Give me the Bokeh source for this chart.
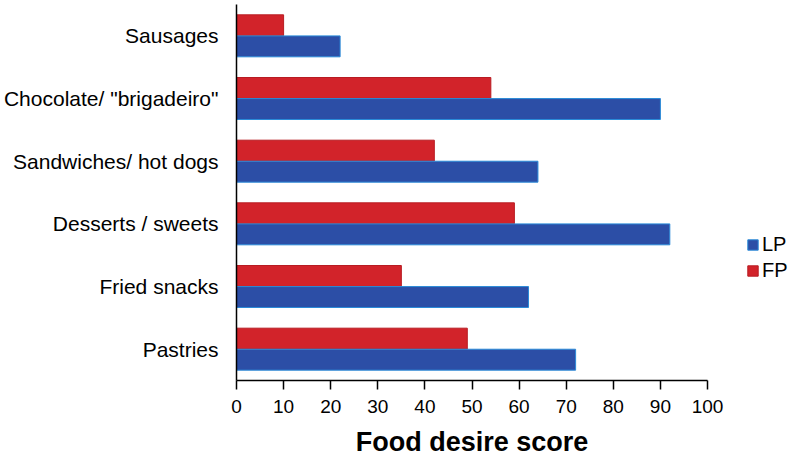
from bokeh.plotting import figure
from bokeh.models import FactorRange, Legend, LegendItem, FixedTicker
from bokeh.transform import dodge
from bokeh.embed import file_html
from bokeh.resources import INLINE
from bokeh.models import ColumnDataSource

categories = ["Sausages", "Chocolate/ \"brigadeiro\"", "Sandwiches/ hot dogs",
              "Desserts / sweets", "Fried snacks", "Pastries"]
lp_values = [22, 90, 64, 92, 62, 72]
fp_values = [10, 54, 42, 59, 35, 49]
x_ticks = [0, 10, 20, 30, 40, 50, 60, 70, 80, 90, 100]

LP_COLOR = "#2c4ea6"
FP_COLOR = "#d2232a"
FONT = "Liberation Sans"

src = ColumnDataSource(dict(cat=categories, lp=lp_values, fp=fp_values))

y_range = FactorRange(factors=list(reversed(categories)), range_padding=0)
p = figure(frame_width=471, frame_height=376, y_range=y_range, x_range=(0, 100),
           output_backend="svg", toolbar_location=None,
           min_border_left=230, min_border_right=0, min_border_top=4,
           min_border_bottom=20)

r_fp = p.hbar(y=dodge("cat", 0.168, range=p.y_range), right="fp", left=0,
              height=0.334, source=src, fill_color=FP_COLOR,
              line_color="#b81c22", line_width=1)
r_lp = p.hbar(y=dodge("cat", -0.168, range=p.y_range), right="lp", left=0,
              height=0.334, source=src, fill_color=LP_COLOR,
              line_color="#2a8ad8", line_width=1)

p.xgrid.visible = False
p.ygrid.visible = False
p.outline_line_color = None
p.background_fill_color = "white"
p.border_fill_color = "white"

xa = p.xaxis[0]
xa.ticker = FixedTicker(ticks=x_ticks)
xa.minor_tick_line_color = None
xa.major_tick_in = 0
xa.major_tick_out = 9
xa.axis_line_color = "black"
xa.axis_line_width = 1.5
xa.major_tick_line_color = "black"
xa.major_tick_line_width = 1.5
xa.major_label_text_font = FONT
xa.major_label_text_font_size = "19px"
xa.major_label_text_color = "black"
xa.major_label_standoff = 10
xa.axis_label = "Food desire score"
xa.axis_label_text_font = FONT
xa.axis_label_text_font_style = "bold"
xa.axis_label_text_font_size = "27px"
xa.axis_label_text_color = "black"
xa.axis_label_standoff = 11

ya = p.yaxis[0]
ya.major_tick_line_color = None
ya.minor_tick_line_color = None
ya.axis_line_color = "black"
ya.axis_line_width = 1.5
ya.major_label_text_font = FONT
ya.major_label_text_font_size = "21px"
ya.major_label_text_color = "black"
ya.major_label_standoff = 12

legend = Legend(items=[LegendItem(label="LP", renderers=[r_lp]),
                       LegendItem(label="FP", renderers=[r_fp])],
                location=(39, 98), border_line_color=None,
                background_fill_alpha=0, padding=4, margin=0,
                label_text_font=FONT, label_text_font_size="20px",
                label_text_color="black", label_height=20,
                glyph_width=13, glyph_height=13, label_standoff=3,
                spacing=3)
p.add_layout(legend, "right")

open("out.html", "w").write(file_html(p, INLINE))
